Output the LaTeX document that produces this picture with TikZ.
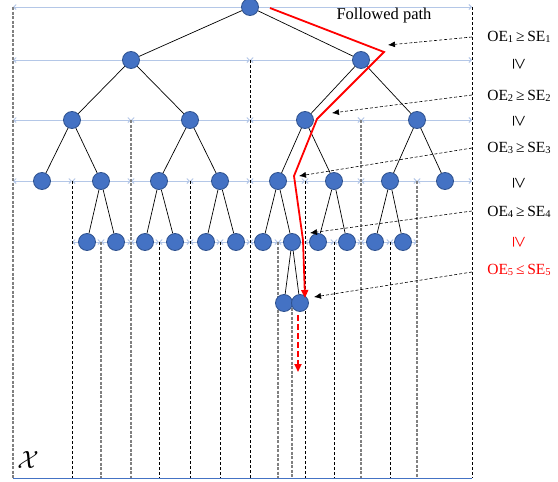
\documentclass[tikz,border=0pt]{standalone}
\usepackage{fontspec}
\setmainfont{Liberation Serif}
\usepackage{tikz}
\newcommand{\noderad}{8.5pt}
\newcommand{\bottomy}{478}
\newcommand{\sub}[1]{\raisebox{-1pt}{\fontsize{10.5}{12}\selectfont #1}}
\newcommand{\downge}{\scalebox{1.35}{\rotatebox{-90}{≥}}}
\newcommand{\cmp}[1]{\hspace{0.18em}#1\hspace{0.18em}}
\definecolor{myBlue}{RGB}{68,114,196}
\definecolor{myBlueDark}{RGB}{47,82,143}
\definecolor{myLightBlue}{RGB}{180,199,231}
\definecolor{myRed}{RGB}{255,0,0}
\usetikzlibrary{arrows.meta,calc}
\pgfdeclarelayer{bg}
\pgfsetlayers{bg,main}
\tikzset{
  x=1pt,y=-1pt,
  font=\fontsize{15.5}{18}\selectfont,
  vert/.style={draw=myBlueDark,fill=myBlue,shape=circle,minimum size=2*\noderad,inner sep=0,line width=0.8pt},
  edge/.style={draw,black,line width=0.7pt},
  cell/.style={draw=myLightBlue,line width=1pt,{Straight Barb[length=2.5pt,width=5pt]}-{Straight Barb[length=2.5pt,width=5pt]}},
  sepline/.style={draw,black,line width=0.8pt,dash pattern=on 3pt off 2pt},
  sepgray/.style={draw,gray,line width=1.2pt,dash pattern=on 3pt off 1.5pt},
  path/.style={draw=myRed,line width=1.8pt,-{Triangle[length=8pt,width=7pt]}},
  hint/.style={draw,black,line width=0.6pt,dash pattern=on 3pt off 2pt,-{Latex[length=7pt,width=6pt]}},
  cond/.style={inner sep=1pt},
}
\begin{document}
\begin{tikzpicture}
  \useasboundingbox (0,0) rectangle (558,482);
  % tree
  \foreach \n/\x/\y in {r/250/7,
      a/131/60, b/361/60,
      aa/72/120, ab/190/120, ba/305/120, bb/417/120,
      aaa/42/181, aab/101/181, aba/159/181, abb/220/181, baa/278/181, bab/334/181, bba/390/181, bbb/445/181,
      aaba/87/242, aabb/116/242, abaa/145/242, abab/175/242, abba/206/242, abbb/236/242,
      baaa/263/242, baab/292/242, baba/318/242, babb/347/242, bbaa/375/242, bbab/403/242,
      baaba/284/303, baabb/300/303}
    \node (\n) [vert] at (\x,\y) {};
  \foreach \p/\c in {r/a, r/b, a/aa, a/ab, b/ba, b/bb,
      aa/aaa, aa/aab, ab/aba, ab/abb, ba/baa, ba/bab, bb/bba, bb/bbb,
      aab/aaba, aab/aabb, aba/abaa, aba/abab, abb/abba, abb/abbb,
      baa/baaa, baa/baab, bab/baba, bab/babb, bba/bbaa, bba/bbab,
      baab/baaba, baab/baabb}
    \path [edge] (\p) -- (\c);
  % cells
  \begin{pgfonlayer}{bg}
    \foreach \a/\b in {13/472} \path [cell] (\a,7) -- (\b,7);
    \foreach \a/\b in {13/250, 250/472} \path [cell] (\a,60) -- (\b,60);
    \foreach \a/\b in {13/131, 131/250, 250/361, 361/472} \path [cell] (\a,120) -- (\b,120);
    \foreach \a/\b in {13/72, 72/131, 131/190, 190/250, 250/305, 305/361, 361/417, 417/472}
      \path [cell] (\a,181) -- (\b,181);
    \foreach \a/\b in {72/101, 101/131, 131/159, 159/190, 190/220, 220/250, 250/278, 278/305,
        305/334, 334/361, 361/390, 390/417}
      \path [cell] (\a,242) -- (\b,242);
    \foreach \x/\y in {472/7, 250/60, 72/181, 190/181, 305/181, 159/242, 220/242, 334/242, 390/242}
      \path [sepline] (\x,\y) -- (\x,\bottomy);
    \foreach \x/\y in {13/7, 131/120, 361/120, 417/181, 101/242, 278/242, 292/303}
      \path [sepgray] (\x,\y) -- (\x,\bottomy);
  \end{pgfonlayer}
  \draw [myBlue,line width=1pt] (13,\bottomy) -- (472,\bottomy);
  % followed path
  \coordinate (p0) at (270,8);
  \coordinate (p1) at (384,52);
  \coordinate (p2) at (317,119);
  \coordinate (p3) at (294,176);
  \coordinate (p4) at (303,240);
  \coordinate (p5) at (305,298);
  \path [path] (p0) -- (p1) -- (p2) -- (p3) -- (p4) -- (p5);
  \coordinate (down) at (298,372);
  \path [path,dash pattern=on 6pt off 3pt] ($(baabb.south)+(-2,3)$) -- (down);
  \node (fp) [font=\fontsize{16.5}{18}\selectfont] at (384,16) {Followed path};
  % conditions
  \foreach \i/\ys/\xt/\yt in {1/37/388/45, 2/95/332/113, 3/148/299/176, 4/211/310/233, 5/272/314/297} {
    \coordinate (s\i) at (472,\ys);
    \coordinate (t\i) at (\xt,\yt);
    \path [hint] (s\i) -- (t\i);
  }
  \node (oe1) [cond] at (519,37) {OE\sub{1}\cmp{≥}SE\sub{1}};
  \node (oe2) [cond] at (519,96) {OE\sub{2}\cmp{≥}SE\sub{2}};
  \node (oe3) [cond] at (519,148) {OE\sub{3}\cmp{≥}SE\sub{3}};
  \node (oe4) [cond] at (519,212) {OE\sub{4}\cmp{≥}SE\sub{4}};
  \node (oe5) [cond,myRed] at (519,270) {OE\sub{5}\cmp{≤}SE\sub{5}};
  \node (ge1) [cond] at (519,64) {\downge};
  \node (ge2) [cond] at (519,121) {\downge};
  \node (ge3) [cond] at (519,183) {\downge};
  \node (ge4) [cond,myRed] at (519,242) {\downge};
  \node (space) at (28,460) {\fontsize{24}{24}\selectfont$\mathcal{X}$};
\end{tikzpicture}
\end{document}
